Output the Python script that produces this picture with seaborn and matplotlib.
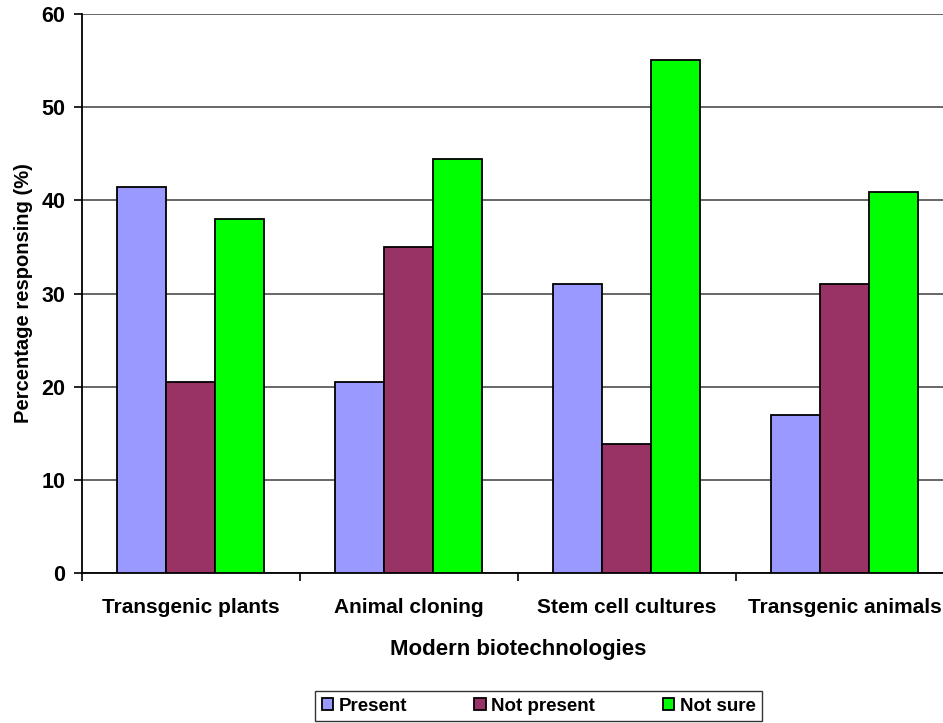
import pandas as pd
import seaborn as sns
import matplotlib.pyplot as plt

# dados
categorias = ['Transgenic plants', 'Animal cloning', 'Stem cell cultures', 'Transgenic animals']
respostas = ['Present', 'Not present', 'Not sure']
present = [41.4, 20.5, 31.0, 17.0]
not_present = [20.5, 35.0, 13.8, 31.0]
not_sure = [38.0, 44.4, 55.1, 40.9]
cores = ['#9999FF', '#993366', '#00FF00']

df = pd.DataFrame({
    'Tecnologia': categorias * 3,
    'Resposta': [r for r in respostas for _ in categorias],
    'Valor': present + not_present + not_sure,
})

sns.set_style('white')
plt.rcParams['font.family'] = ['Liberation Sans', 'DejaVu Sans']
plt.rcParams['font.weight'] = 'bold'
plt.rcParams['text.color'] = 'black'
plt.rcParams['axes.labelcolor'] = 'black'
plt.rcParams['xtick.color'] = 'black'
plt.rcParams['ytick.color'] = 'black'

fig = plt.figure(figsize=(9.43, 7.23), dpi=100)
ax = fig.add_axes([0.087, 0.2075, 0.924, 0.773])

sns.barplot(data=df, x='Tecnologia', y='Valor', hue='Resposta', palette=cores,
            saturation=1, width=0.675, edgecolor='black', linewidth=1.3, ax=ax, zorder=3)

ax.set_ylim(0, 60)
ax.set_xlim(-0.5, 3.5)
ax.set_yticks(range(0, 61, 10))
ax.yaxis.grid(True, color='#4d4d4d', linewidth=1.2, zorder=0)
ax.set_axisbelow(True)
for s in ['top', 'right']:
    ax.spines[s].set_visible(False)
for s in ['left', 'bottom']:
    ax.spines[s].set_color('black')
    ax.spines[s].set_linewidth(1.3)

ax.tick_params(axis='y', left=True, length=6, width=1.2, labelsize=15.5, pad=6)
ax.tick_params(axis='x', which='major', length=0, labelsize=15, pad=18)
ax.set_xticks([-0.5, 0.5, 1.5, 2.5, 3.5], minor=True)
ax.tick_params(axis='x', which='minor', bottom=True, length=6, width=1.2)

ax.set_xlabel('Modern biotechnologies', fontsize=16, fontweight='bold', labelpad=16)
ax.set_ylabel('Percentage responsing (%)', fontsize=14.5, fontweight='bold', labelpad=6)

handles, labels = ax.get_legend_handles_labels()
ax.legend_.remove()
leg = fig.legend(handles, labels, loc='center', bbox_to_anchor=(0.571, 0.0235), ncol=3,
                 fontsize=13.5, frameon=True, fancybox=False, edgecolor='black',
                 handlelength=0.6, handleheight=0.6, handletextpad=0.3,
                 columnspacing=3.6, borderpad=0.35)
leg.get_frame().set_linewidth(1.0)

fig.savefig('out.png', dpi=100)
